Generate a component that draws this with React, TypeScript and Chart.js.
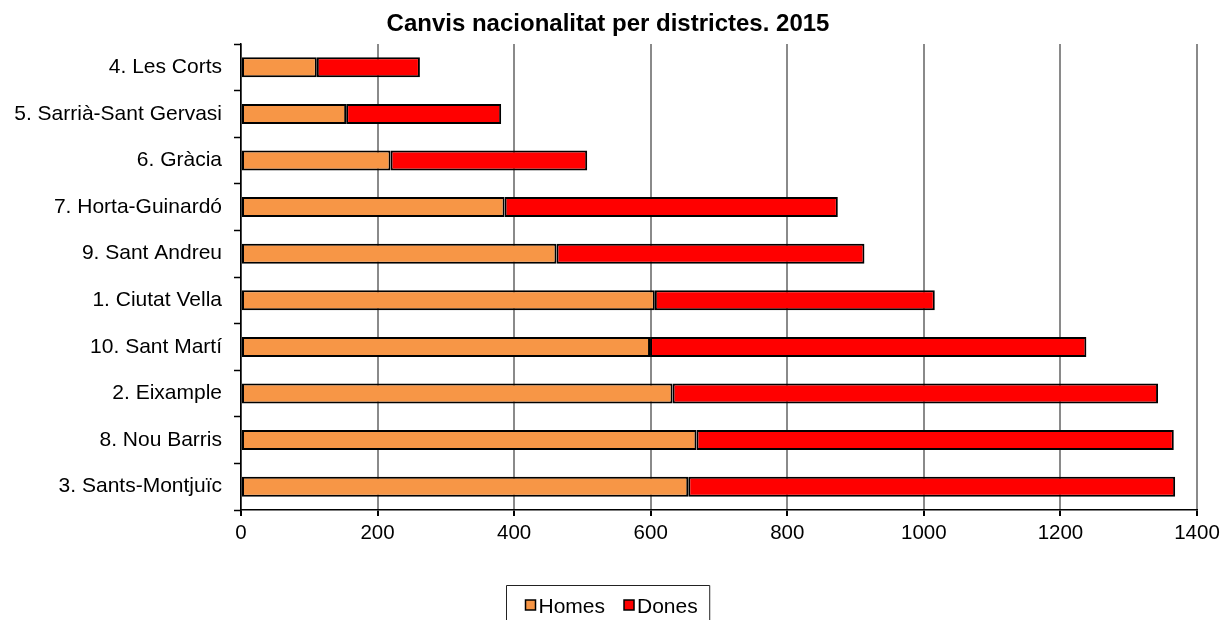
import React, { useEffect, useRef } from "react";
import { Chart, registerables } from "chart.js";

Chart.register(...registerables);

const titleText = "Canvis nacionalitat per districtes. 2015";
const categories = [
  "4. Les Corts",
  "5. Sarrià-Sant Gervasi",
  "6. Gràcia",
  "7. Horta-Guinardó",
  "9. Sant Andreu",
  "1. Ciutat Vella",
  "10. Sant Martí",
  "2. Eixample",
  "8. Nou Barris",
  "3. Sants-Montjuïc",
];
const homes = [111, 154, 219, 386, 462, 606, 599, 632, 667, 655];
const dones = [151, 227, 288, 488, 451, 410, 639, 711, 699, 713];
const seriesNames = ["Homes", "Dones"];
const xMin = 0;
const xMax = 1400;
const xStep = 200;

const FONT = "'Liberation Sans', Arial, sans-serif";
const W = 1228;
const H = 620;

const decoPlugin = {
  id: "deco",
  afterDraw(chart: any) {
    const ctx = chart.ctx as CanvasRenderingContext2D;
    const cx = W / 2 - 6;
    ctx.save();
    ctx.fillStyle = "#000";
    ctx.font = `bold 24px ${FONT}`;
    ctx.textAlign = "center";
    ctx.textBaseline = "alphabetic";
    ctx.fillText(titleText, cx, 31);

    ctx.font = `21px ${FONT}`;
    const sq = 10;
    const gap = 3;
    const itemGap = 19;
    const ds = chart.data.datasets;
    const widths = ds.map((d: any) => ctx.measureText(d.label).width);
    const itemsW = widths.reduce((a: number, w: number) => a + sq + gap + w, 0) + itemGap * (ds.length - 1);
    const boxW = itemsW + 19 + 12;
    const boxL = Math.round(cx - boxW / 2) + 0.5;
    const boxT = 585.5;
    ctx.lineWidth = 1;
    ctx.strokeStyle = "#222";
    ctx.fillStyle = "#fff";
    ctx.beginPath();
    ctx.rect(boxL, boxT, boxW, 60);
    ctx.fill();
    ctx.stroke();
    let x = boxL + 19;
    const midY = 605;
    ds.forEach((d: any, i: number) => {
      ctx.fillStyle = d.backgroundColor;
      ctx.fillRect(x, midY - sq / 2, sq, sq);
      ctx.strokeStyle = "#000";
      ctx.lineWidth = 1.5;
      ctx.strokeRect(x, midY - sq / 2, sq, sq);
      ctx.fillStyle = "#000";
      ctx.textAlign = "left";
      ctx.textBaseline = "alphabetic";
      ctx.fillText(d.label, x + sq + gap, 613);
      x += sq + gap + widths[i] + itemGap;
    });
    ctx.restore();
  },
};

export default function App() {
  const ref = useRef<HTMLCanvasElement | null>(null);
  useEffect(() => {
    if (!ref.current) return;
    const chart = new Chart(ref.current, {
      type: "bar",
      data: {
        labels: categories,
        datasets: [
          {
            label: seriesNames[0],
            data: homes,
            backgroundColor: "#F79646",
            borderColor: "#000",
            borderWidth: 2,
            borderSkipped: false,
            barPercentage: 0.43,
            categoryPercentage: 1,
          },
          {
            label: seriesNames[1],
            data: dones,
            backgroundColor: "#FF0000",
            borderColor: "#000",
            borderWidth: 2,
            borderSkipped: false,
            barPercentage: 0.43,
            categoryPercentage: 1,
          },
        ],
      },
      options: {
        indexAxis: "y",
        responsive: false,
        animation: false,
        devicePixelRatio: 1,
        layout: { padding: { top: 44, right: 31, left: 0, bottom: 0 } },
        plugins: {
          legend: { display: false },
          title: { display: false },
          tooltip: { enabled: false },
        },
        scales: {
          x: {
            stacked: true,
            min: xMin,
            max: xMax,
            ticks: {
              stepSize: xStep,
              color: "#000",
              font: { family: FONT, size: 20.5 },
              padding: 5,
              maxRotation: 0,
              callback: (v: any) => String(v),
            },
            grid: {
              color: "#8a8a8a",
              lineWidth: 2,
              tickColor: "#000",
              tickLength: 6,
            },
            border: { display: true, color: "#000", width: 1.5 },
            afterFit(scale: any) {
              scale.height = 110;
            },
          },
          y: {
            stacked: true,
            ticks: {
              color: "#000",
              font: { family: FONT, size: 21 },
              padding: 12,
            },
            grid: {
              drawOnChartArea: false,
              drawTicks: true,
              tickLength: 7,
              tickColor: "#000",
              tickWidth: 1.5,
              offset: true,
            },
            border: { display: true, color: "#000", width: 1.5 },
            afterFit(scale: any) {
              scale.width = 241;
            },
          },
        },
      },
      plugins: [decoPlugin],
    } as any);
    return () => chart.destroy();
  }, []);
  return (
    <div style={{ position: "fixed", left: 0, top: 0, width: W, height: H, background: "#fff" }}>
      <canvas ref={ref} width={W} height={H} style={{ width: W, height: H, display: "block" }} />
    </div>
  );
}
